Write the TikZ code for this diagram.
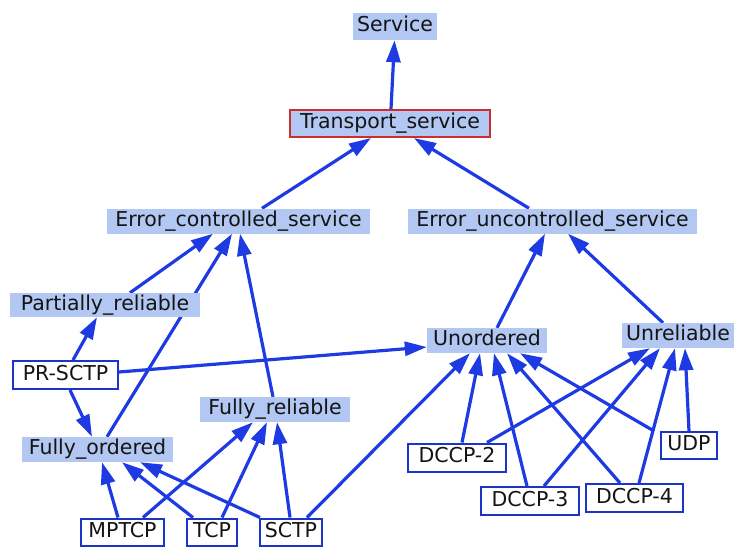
\documentclass[tikz,border=0pt]{standalone}
\usepackage{fontspec}
\setmainfont{DejaVu Sans}
\usetikzlibrary{arrows.meta,backgrounds}
\definecolor{clsfill}{HTML}{B2C7F1}
\definecolor{edgeblue}{HTML}{1E3BE3}
\definecolor{boxblue}{HTML}{1C35C8}
\definecolor{boxred}{HTML}{CC2E2E}
\tikzset{
  base/.style={font=\fontsize{20.5}{22}\selectfont, text=black!92, inner xsep=1pt, inner ysep=0pt,
    text height=15pt, text depth=4.5pt, anchor=center},
  cls/.style={base, fill=clsfill, draw=none},
  inst/.style={base, fill=white, draw=boxblue, line width=2pt},
  sel/.style={base, fill=clsfill, draw=boxred, line width=2pt},
  edge/.style={draw=edgeblue, line width=3.2pt, -{Triangle[length=22pt,width=14pt]}},
}
\begin{document}
\begin{tikzpicture}[x=1pt,y=-1pt]
\useasboundingbox (0,0) rectangle (734,547);
% nodes
\node[cls, minimum width=84pt, minimum height=27pt] (svc) at (395,26.5) {Service};
\node[sel, minimum width=200pt, minimum height=27pt] (tr) at (390,123.5) {Transport\_service};
\node[cls, minimum width=263pt, minimum height=25pt] (ec) at (238.5,221) {Error\_controlled\_service};
\node[cls, minimum width=289pt, minimum height=25pt] (eu) at (552.5,221) {Error\_uncontrolled\_service};
\node[cls, minimum width=190pt, minimum height=24pt] (pr) at (105,305) {Partially\_reliable};
\node[inst, minimum width=105pt, minimum height=28pt] (prs) at (65.5,375) {PR-SCTP};
\node[cls, minimum width=150pt, minimum height=25pt] (fr) at (275,409.5) {Fully\_reliable};
\node[cls, minimum width=151pt, minimum height=25pt] (fo) at (97.5,449.5) {Fully\_ordered};
\node[inst, minimum width=83pt, minimum height=27pt] (mp) at (122.5,532) {MPTCP};
\node[inst, minimum width=50pt, minimum height=27pt] (tcp) at (212,532) {TCP};
\node[inst, minimum width=62pt, minimum height=27pt] (sctp) at (291,532) {SCTP};
\node[cls, minimum width=120pt, minimum height=25pt] (un) at (487,340.5) {Unordered};
\node[cls, minimum width=112pt, minimum height=25pt] (ur) at (678,335.5) {Unreliable};
\node[inst, minimum width=98pt, minimum height=28pt] (d2) at (457,457.5) {DCCP-2};
\node[inst, minimum width=98pt, minimum height=28pt] (d3) at (530,501) {DCCP-3};
\node[inst, minimum width=97pt, minimum height=28pt] (d4) at (634.5,498) {DCCP-4};
\node[inst, minimum width=56pt, minimum height=27pt] (udp) at (689,445.5) {UDP};
% edges (behind nodes)
\begin{scope}[on background layer]
\draw[edge] ([xshift=1pt]tr.north) -- ([xshift=-0.5pt]svc.south);
\draw[edge] ([xshift=23.5pt]ec.north) -- ([xshift=-19pt]tr.south);
\draw[edge] ([xshift=-23.5pt]eu.north) -- ([xshift=24pt]tr.south);
\draw[edge] ([xshift=25pt]pr.north) -- ([xshift=-25.5pt]ec.south);
\draw[edge] ([xshift=9.5pt]fo.north) -- ([xshift=-6.5pt]ec.south);
\draw[edge] ([xshift=-2pt]fr.north) -- ([xshift=1.5pt]ec.south);
\draw[edge] ([xshift=10pt]un.north) -- ([xshift=-7.5pt]eu.south);
\draw[edge] ([xshift=-15pt]ur.north) -- ([xshift=15.5pt]eu.south);
\draw[edge] ([xshift=7.5pt]prs.north) -- ([xshift=-8pt]pr.south);
\draw[edge] ([xshift=4.5pt]prs.south) -- ([xshift=-5.5pt]fo.north);
\draw[edge] ([yshift=3pt]prs.east) -- ([yshift=-6.5pt]un.west);
\draw[edge] ([xshift=-4.5pt]mp.north) -- ([xshift=4.5pt]fo.south);
\draw[edge] ([xshift=20.5pt]mp.north) -- ([xshift=-22pt]fr.south);
\draw[edge] ([xshift=-19pt]tcp.north) -- ([xshift=24.5pt]fo.south);
\draw[edge] ([xshift=10pt]tcp.north) -- ([xshift=-8pt]fr.south);
\draw[edge] ([xshift=-31pt]sctp.north) -- ([xshift=42.5pt]fo.south);
\draw[edge] ([xshift=-1pt]sctp.north) -- ([xshift=2pt]fr.south);
\draw[edge] ([xshift=16pt]sctp.north) -- ([xshift=-17pt]un.south);
\draw[edge] ([xshift=5pt]d2.north) -- ([xshift=-7pt]un.south);
\draw[edge] ([xshift=30pt]d2.north) -- ([xshift=-28pt]ur.south);
\draw[edge] ([xshift=-3pt]d3.north) -- ([xshift=7pt]un.south);
\draw[edge] ([xshift=14pt]d3.north) -- ([xshift=-18pt]ur.south);
\draw[edge] ([xshift=-14.5pt]d4.north) -- ([xshift=20pt]un.south);
\draw[edge] ([xshift=4.5pt]d4.north) -- ([xshift=-3pt]ur.south);
\draw[edge] ([xshift=-35pt]udp.north) -- ([xshift=33pt]un.south);
\draw[edge] (udp.north) -- ([xshift=7pt]ur.south);
\end{scope}
\end{tikzpicture}
\end{document}
